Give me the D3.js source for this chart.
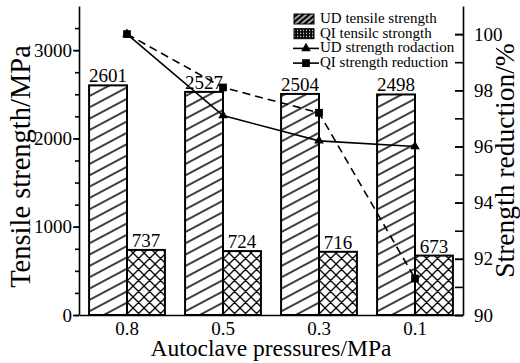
<!DOCTYPE html>
<html>
<head>
<meta charset="utf-8">
<script src="https://cdn.jsdelivr.net/npm/d3@7"></script>
<style>
  body { margin: 0; background: #fff; }
  svg { display: block; }
  .axis path, .axis line { stroke: #000; stroke-width: 1.6px; }
  .axis text { font-size: 19px; fill: #000; }
</style>
</head>
<body>
<svg id="chart" width="520" height="363" font-family="Liberation Serif, DejaVu Serif, serif"></svg>
<script>
'use strict'

// data
const categories = ['0.8', '0.5', '0.3', '0.1']
const udStrength = [2601, 2527, 2504, 2498]
const qiStrength = [737, 724, 716, 673]
const udReduction = [100, 97.1, 96.2, 96.0]
const qiReduction = [100, 98.1, 97.2, 91.3]
const leftLabels = [0, 1000, 2000, 3000]
const rightLabels = [90, 92, 94, 96, 98, 100]
const legendNames = ['UD tensile strength', 'QI tensilc strongth', 'UD strength rodaction', 'QI strength reduction']

const serif = 'Liberation Serif, DejaVu Serif, serif'
const svg = d3.select('#chart')
const plotLeft = 79
const plotRight = 463
const plotTop = 6
const plotBottom = 315

const x = d3.scaleBand().domain(categories).range([plotLeft, plotRight])
  .paddingInner(0.21).paddingOuter(0.105)
const xs = d3.scaleBand().domain(['ud', 'qi']).range([0, x.bandwidth()])
const y = d3.scaleLinear().domain([0, 3500]).range([plotBottom, plotTop])
const y2 = d3.scaleLinear().domain([90, 101]).range([plotBottom, plotTop])

// hatch patterns
const defs = svg.append('defs')
const udPat = defs.append('pattern').attr('id', 'udHatch')
  .attr('patternUnits', 'userSpaceOnUse').attr('width', 10).attr('height', 10)
  .attr('patternTransform', 'rotate(-28)')
udPat.append('rect').attr('width', 10).attr('height', 10).attr('fill', '#fff')
udPat.append('line').attr('x1', 0).attr('y1', 5).attr('x2', 10).attr('y2', 5)
  .attr('stroke', '#000').attr('stroke-width', 1.5)

const qiPat = defs.append('pattern').attr('id', 'qiHatch')
  .attr('patternUnits', 'userSpaceOnUse').attr('width', 11).attr('height', 11)
qiPat.append('rect').attr('width', 11).attr('height', 11).attr('fill', '#fff')
qiPat.append('path').attr('d', 'M0,0L11,11M0,11L11,0M-1,1L1,-1M10,12L12,10M-1,10L1,12M10,-1L12,1')
  .attr('stroke', '#000').attr('stroke-width', 1.3)

const udLeg = defs.append('pattern').attr('id', 'udLeg')
  .attr('patternUnits', 'userSpaceOnUse').attr('width', 4).attr('height', 4)
  .attr('patternTransform', 'rotate(-40)')
udLeg.append('rect').attr('width', 4).attr('height', 4).attr('fill', '#000')
udLeg.append('line').attr('x1', 0).attr('y1', 2).attr('x2', 4).attr('y2', 2)
  .attr('stroke', '#fff').attr('stroke-width', 1.3)

const qiLeg = defs.append('pattern').attr('id', 'qiLeg')
  .attr('patternUnits', 'userSpaceOnUse').attr('width', 3).attr('height', 3)
qiLeg.append('rect').attr('width', 3).attr('height', 3).attr('fill', '#000')
qiLeg.append('rect').attr('x', 1).attr('y', 1).attr('width', 1.2).attr('height', 1.2).attr('fill', '#fff')

// bars
const groups = svg.append('g').selectAll('g')
  .data(categories)
  .join('g')
  .attr('transform', d => `translate(${x(d)},0)`)

groups.append('rect')
  .attr('x', xs('ud'))
  .attr('y', (d, i) => y(udStrength[i]))
  .attr('width', xs.bandwidth())
  .attr('height', (d, i) => plotBottom - y(udStrength[i]))
  .attr('fill', 'url(#udHatch)')
  .attr('stroke', '#000').attr('stroke-width', 2)

groups.append('rect')
  .attr('x', xs('qi'))
  .attr('y', (d, i) => y(qiStrength[i]))
  .attr('width', xs.bandwidth())
  .attr('height', (d, i) => plotBottom - y(qiStrength[i]))
  .attr('fill', 'url(#qiHatch)')
  .attr('stroke', '#000').attr('stroke-width', 2)

groups.append('text')
  .attr('x', xs('ud') + xs.bandwidth() / 2)
  .attr('y', (d, i) => y(udStrength[i]) - 3)
  .attr('text-anchor', 'middle').attr('font-size', 19)
  .text((d, i) => udStrength[i])

groups.append('text')
  .attr('x', xs('qi') + xs.bandwidth() / 2)
  .attr('y', (d, i) => y(qiStrength[i]) - 3)
  .attr('text-anchor', 'middle').attr('font-size', 19)
  .text((d, i) => qiStrength[i])

// reduction lines
const cx = d => x(d) + x.bandwidth() / 2
const redLine = d3.line().x((d, i) => cx(categories[i])).y(d => y2(d))

svg.append('path').datum(udReduction)
  .attr('d', redLine).attr('fill', 'none')
  .attr('stroke', '#000').attr('stroke-width', 1.6)
svg.append('path').datum(qiReduction)
  .attr('d', redLine).attr('fill', 'none')
  .attr('stroke', '#000').attr('stroke-width', 1.6)
  .attr('stroke-dasharray', '8,5')

const tri = d3.symbol().type(d3.symbolTriangle).size(40)
const sq = d3.symbol().type(d3.symbolSquare).size(60)
svg.append('g').selectAll('path')
  .data(udReduction).join('path')
  .attr('d', tri)
  .attr('transform', (d, i) => `translate(${cx(categories[i])},${y2(d)})`)
svg.append('g').selectAll('path')
  .data(qiReduction).join('path')
  .attr('d', sq)
  .attr('transform', (d, i) => `translate(${cx(categories[i])},${y2(d)})`)

// axes
const serifAxis = g => g.attr('font-family', serif).attr('font-size', 19)

svg.append('g').attr('class', 'axis')
  .attr('transform', `translate(${plotLeft},0)`)
  .call(d3.axisLeft(y).tickValues(d3.range(0, 3500, 250)).tickSize(4).tickFormat(''))
  .call(g => g.select('.domain').remove())
svg.append('g').attr('class', 'axis')
  .attr('transform', `translate(${plotLeft},0)`)
  .call(d3.axisLeft(y).tickValues(leftLabels).tickFormat(d3.format('d'))
    .tickSize(6).tickSizeOuter(0).tickPadding(1))
  .call(serifAxis)

svg.append('g').attr('class', 'axis')
  .attr('transform', `translate(${plotRight},0)`)
  .call(d3.axisRight(y2).tickValues(d3.range(90, 101, 1)).tickSize(-8).tickFormat(''))
  .call(g => g.select('.domain').remove())
svg.append('g').attr('class', 'axis')
  .attr('transform', `translate(${plotRight},0)`)
  .call(d3.axisRight(y2).tickValues(rightLabels).tickFormat(d3.format('d'))
    .tickSize(-8).tickSizeOuter(0).tickPadding(11))
  .call(serifAxis)

svg.append('g').attr('class', 'axis')
  .attr('transform', `translate(0,${plotBottom})`)
  .call(d3.axisBottom(x).tickSize(0).tickPadding(7))
  .call(serifAxis)
  .call(g => g.selectAll('.tick text').attr('dy', '0.71em'))

// axis titles
svg.append('text')
  .attr('transform', `translate(30,${(plotTop + plotBottom) / 2 + 6}) rotate(-90)`)
  .attr('text-anchor', 'middle').attr('font-size', 28.5)
  .text('Tensile strength/MPa')
svg.append('text')
  .attr('transform', `translate(514,${(plotTop + plotBottom) / 2}) rotate(-90)`)
  .attr('text-anchor', 'middle').attr('font-size', 27.5)
  .text('Strength reduction/%')
svg.append('text')
  .attr('x', (plotLeft + plotRight) / 2).attr('y', 356)
  .attr('text-anchor', 'middle').attr('font-size', 23.5)
  .text('Autoclave pressures/MPa')

// legend
const legend = svg.append('g').attr('transform', 'translate(293,0)')
const rows = legend.selectAll('g').data(legendNames).join('g')
  .attr('transform', (d, i) => `translate(0,${23 + i * 14.7})`)
rows.append('text').attr('x', 27).attr('font-size', 15).text(d => d)
rows.filter((d, i) => i < 2).append('rect')
  .attr('x', 1).attr('y', -9).attr('width', 20).attr('height', 10)
  .attr('fill', (d, i) => i === 0 ? 'url(#udLeg)' : 'url(#qiLeg)')
  .attr('stroke', '#000').attr('stroke-width', 1)
rows.filter((d, i) => i >= 2).append('line')
  .attr('x1', 0).attr('x2', 26).attr('y1', -4).attr('y2', -4)
  .attr('stroke', '#000').attr('stroke-width', 1.6)
rows.filter((d, i) => i >= 2).append('path')
  .attr('d', (d, i) => i === 0 ? tri() : sq())
  .attr('transform', 'translate(13,-4)')
</script>
</body>
</html>
